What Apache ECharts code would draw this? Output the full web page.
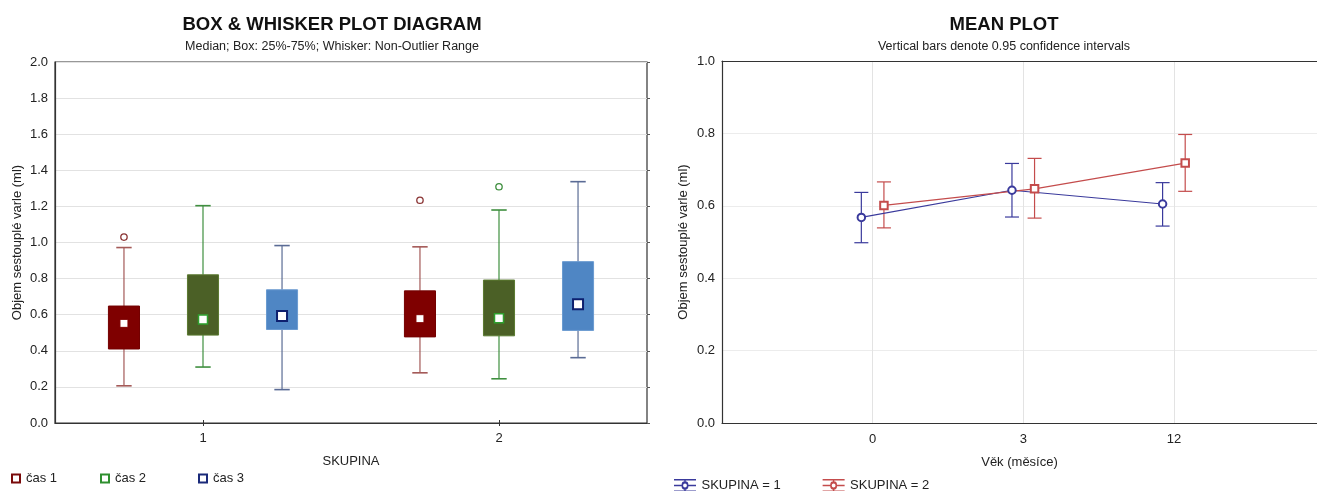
<!DOCTYPE html>
<html><head><meta charset="utf-8">
<script src="https://cdn.jsdelivr.net/npm/echarts@6/dist/echarts.min.js"></script>
<style>html,body{margin:0;padding:0;background:#fff}#c{width:1317px;height:491px}</style>
</head><body><div id="c"></div>
<script>
// ---------- Data: box & whisker plot ----------
const groups = ['1', '2'];
const timeNames = ['čas 1', 'čas 2', 'čas 3'];
// per group: [low whisker, Q1, median, Q3, high whisker]
const cas1Box = [[0.206, 0.410, 0.552, 0.648, 0.972], [0.278, 0.477, 0.578, 0.732, 0.976]];
const cas2Box = [[0.310, 0.487, 0.574, 0.821, 1.204], [0.245, 0.483, 0.580, 0.792, 1.180]];
const cas3Box = [[0.185, 0.518, 0.593, 0.738, 0.983], [0.362, 0.513, 0.658, 0.894, 1.337]];
const cas1Out = [1.030, 1.234];
const cas2Out = [null, 1.309];
const cas3Out = [null, null];

// ---------- Data: mean plot ----------
const ageLabels = ['0', '3', '12'];
const sk1Mean = [0.568, 0.643, 0.605];
const sk1Low  = [0.498, 0.569, 0.544];
const sk1High = [0.637, 0.717, 0.664];
const sk2Mean = [0.601, 0.647, 0.718];
const sk2Low  = [0.539, 0.566, 0.640];
const sk2High = [0.666, 0.731, 0.797];
const meanNames = ['SKUPINA = 1', 'SKUPINA = 2'];

const FONT = 'Liberation Sans, Arial, sans-serif';
const boxes = [cas1Box, cas2Box, cas3Box];
const outs = [cas1Out, cas2Out, cas3Out];
const boxStyles = [
  {fill:'#7f0000', stroke:'#730000', whisker:'#a45a58', medStroke:'#7f0000', medLw:1, ms:8, out:'#8a3434', legend:'#7a0a0a'},
  {fill:'#4b6026', stroke:'#5a7a30', whisker:'#3f8f3f', medStroke:'#2ea02e', medLw:1.5, ms:9, out:'#3f8f3f', legend:'#2f8f2f'},
  {fill:'#4f86c4', stroke:'#6a9ad0', whisker:'#5a6b95', medStroke:'#0d1f6e', medLw:2, ms:10, out:'#5a6b95', legend:'#1a2a7a'}
];
const slotOffsets = [-0.267, 0, 0.267];

function makeBoxRender(k) {
  const s = boxStyles[k];
  return function (params, api) {
    const cat = api.value(0);
    const band = api.size([1, 0])[0];
    const cx = api.coord([cat, 0])[0] + slotOffsets[k] * band;
    const bw = band * 0.105, cap = band * 0.026;
    const y = i => api.coord([cat, api.value(i)])[1];
    const yl = y(1), yq1 = y(2), ym = y(3), yq3 = y(4), yh = y(5);
    const ms = s.ms;
    return {type: 'group', children: [
      {type:'line', shape:{x1:cx, y1:yh, x2:cx, y2:yq3}, style:{stroke:s.whisker, lineWidth:1.2}},
      {type:'line', shape:{x1:cx, y1:yq1, x2:cx, y2:yl}, style:{stroke:s.whisker, lineWidth:1.2}},
      {type:'line', shape:{x1:cx-cap, y1:yh, x2:cx+cap, y2:yh}, style:{stroke:s.whisker, lineWidth:1.6}},
      {type:'line', shape:{x1:cx-cap, y1:yl, x2:cx+cap, y2:yl}, style:{stroke:s.whisker, lineWidth:1.6}},
      {type:'rect', shape:{x:cx-bw/2, y:yq3, width:bw, height:yq1-yq3}, style:{fill:s.fill, stroke:s.stroke, lineWidth:1}},
      {type:'rect', shape:{x:cx-ms/2, y:ym-ms/2, width:ms, height:ms}, style:{fill:'#fff', stroke:s.medStroke, lineWidth:s.medLw}}
    ]};
  };
}
function makeOutRender(k) {
  const s = boxStyles[k];
  return function (params, api) {
    const cat = api.value(0);
    const band = api.size([1, 0])[0];
    const p = api.coord([cat, api.value(1)]);
    return {type:'circle', shape:{cx:p[0] + slotOffsets[k]*band, cy:p[1], r:3.2}, style:{fill:'#fff', stroke:s.out, lineWidth:1.3}};
  };
}

const SHIFT = 0.075;
const meanColors = ['#3a3a9c', '#c44c4c'];
function makeErrRender(color) {
  return function (params, api) {
    const x = api.value(0);
    const p1 = api.coord([x, api.value(1)]);
    const p2 = api.coord([x, api.value(2)]);
    const h = 7;
    return {type:'group', children:[
      {type:'line', shape:{x1:p1[0], y1:p1[1], x2:p2[0], y2:p2[1]}, style:{stroke:color, lineWidth:1.2}},
      {type:'line', shape:{x1:p1[0]-h, y1:p1[1], x2:p1[0]+h, y2:p1[1]}, style:{stroke:color, lineWidth:1.2}},
      {type:'line', shape:{x1:p2[0]-h, y1:p2[1], x2:p2[0]+h, y2:p2[1]}, style:{stroke:color, lineWidth:1.2}}
    ]};
  };
}

const series = [];
boxes.forEach((b, k) => {
  series.push({
    type:'custom', name:timeNames[k], xAxisIndex:0, yAxisIndex:0,
    itemStyle:{color:boxStyles[k].legend},
    renderItem: makeBoxRender(k),
    encode:{x:0, y:[1,2,3,4,5]},
    data: groups.map((g, i) => [i].concat(b[i]))
  });
  series.push({
    type:'custom', name:timeNames[k], xAxisIndex:0, yAxisIndex:0,
    itemStyle:{color:boxStyles[k].legend},
    renderItem: makeOutRender(k),
    encode:{x:0, y:1},
    data: outs[k].map((v, i) => v == null ? null : [i, v]).filter(d => d)
  });
});
const meanSets = [[sk1Mean, sk1Low, sk1High, -SHIFT, 'emptyCircle'], [sk2Mean, sk2Low, sk2High, SHIFT, 'emptyRect']];
meanSets.forEach((m, j) => {
  series.push({
    type:'custom', name:meanNames[j], xAxisIndex:1, yAxisIndex:2, z:2,
    itemStyle:{color:meanColors[j]},
    renderItem: makeErrRender(meanColors[j]),
    encode:{x:0, y:[1,2]},
    data: m[0].map((v, i) => [i + m[3], m[1][i], m[2][i]])
  });
  series.push({
    type:'line', name:meanNames[j], xAxisIndex:1, yAxisIndex:2, z:3,
    symbol:m[4], symbolSize:7.5,
    color:meanColors[j],
    itemStyle:{color:meanColors[j], borderWidth:1.2},
    lineStyle:{color:meanColors[j], width:1.2},
    data: m[0].map((v, i) => [i + m[3], v])
  });
});

const sqIcon = 'path://M0,0H10V10H0Z M2,2V8H8V2Z';
const ebIcon = 'path://M0,0H22V1.5H0Z M0,5.75H7.6A3.4,3.4 0 0 1 14.4,5.75H22V7.25H14.4A3.4,3.4 0 0 1 7.6,7.25H0Z M9.1,6.5A1.9,1.9 0 1 0 12.9,6.5A1.9,1.9 0 1 0 9.1,6.5Z M10.3,1.5H11.7V3.2H10.3Z M10.3,9.8H11.7V11.5H10.3Z M0,11.5H22V13H0Z';

const axisLabelStyle = {color:'#222', fontSize:13, fontFamily:FONT};
const legendText = {fontSize:13, color:'#222', fontFamily:FONT};
const option = {
  animation:false,
  backgroundColor:'#fff',
  textStyle:{fontFamily:FONT},
  title:[
    {text:'BOX & WHISKER PLOT DIAGRAM', subtext:'Median; Box: 25%-75%; Whisker: Non-Outlier Range',
     left:327, textAlign:'center', top:10, itemGap:6,
     textStyle:{fontSize:18.5, fontWeight:'bold', color:'#111', fontFamily:FONT},
     subtextStyle:{fontSize:12.5, color:'#222', fontFamily:FONT}},
    {text:'MEAN PLOT', subtext:'Vertical bars denote 0.95 confidence intervals',
     left:999, textAlign:'center', top:10, itemGap:6,
     textStyle:{fontSize:18.5, fontWeight:'bold', color:'#111', fontFamily:FONT},
     subtextStyle:{fontSize:12.5, color:'#222', fontFamily:FONT}}
  ],
  legend:[
    {left:6, top:467, itemWidth:10, itemHeight:10, icon:sqIcon, data:[timeNames[0]], textStyle:legendText},
    {left:95, top:467, itemWidth:10, itemHeight:10, icon:sqIcon, data:[timeNames[1]], textStyle:legendText},
    {left:193, top:467, itemWidth:10, itemHeight:10, icon:sqIcon, data:[timeNames[2]], textStyle:legendText},
    {left:669, top:474, itemWidth:23, itemHeight:13, itemGap:42, icon:ebIcon, data:meanNames, textStyle:legendText}
  ],
  grid:[
    {left:55, top:62, width:592, height:361, show:true, borderColor:'#333', borderWidth:1.2, backgroundColor:'#fff'},
    {left:722, top:61, right:0, height:362, show:false}
  ],
  xAxis:[
    {type:'category', gridIndex:0, data:groups, name:'SKUPINA', nameLocation:'middle', nameGap:32,
     nameTextStyle:{fontSize:13, color:'#222', fontFamily:FONT},
     axisLine:{lineStyle:{color:'#333', width:1.2}}, axisTick:{show:true, alignWithLabel:true, inside:true, length:3, lineStyle:{color:'#333'}},
     axisLabel:Object.assign({margin:9}, axisLabelStyle), splitLine:{show:false}},
    {type:'value', gridIndex:1, min:-1, max:2.95, interval:1, name:'Věk (měsíce)', nameLocation:'middle', nameGap:33,
     nameTextStyle:{fontSize:13, color:'#222', fontFamily:FONT},
     axisLine:{onZero:false, lineStyle:{color:'#333', width:1.2}}, axisTick:{show:false},
     axisLabel:Object.assign({margin:10, showMaxLabel:false, formatter: v => (ageLabels[v] !== undefined ? ageLabels[v] : '')}, axisLabelStyle),
     splitLine:{show:true, lineStyle:{color:'#e3e3e3', width:1}}},
    {type:'category', gridIndex:0, data:groups, position:'top',
     axisLine:{show:false}, axisTick:{show:true, alignWithLabel:true, inside:true, length:3, lineStyle:{color:'#333'}},
     axisLabel:{show:false}, splitLine:{show:false}},
    {type:'value', gridIndex:1, min:-1, max:2.95, interval:1, position:'top',
     axisLine:{show:true, onZero:false, lineStyle:{color:'#333', width:1.2}}, axisTick:{show:false},
     axisLabel:{show:false}, splitLine:{show:false}}
  ],
  yAxis:[
    {type:'value', gridIndex:0, min:0, max:2, interval:0.2, name:'Objem sestouplé varle (ml)', nameLocation:'middle', nameGap:31,
     nameTextStyle:{fontSize:13, color:'#222', fontFamily:FONT},
     axisLine:{show:true, onZero:false, lineStyle:{color:'#333', width:1.2}}, axisTick:{show:false},
     axisLabel:Object.assign({margin:7, formatter: v => v.toFixed(1)}, axisLabelStyle),
     splitLine:{show:true, lineStyle:{color:'#e2e2e2', width:1}}},
    {type:'value', gridIndex:0, min:0, max:2, interval:0.2, position:'right',
     axisLine:{show:false}, axisTick:{show:true, length:3, lineStyle:{color:'#555'}}, axisLabel:{show:false}, splitLine:{show:false}},
    {type:'value', gridIndex:1, min:0, max:1, interval:0.2, name:'Objem sestouplé varle (ml)', nameLocation:'middle', nameGap:32,
     nameTextStyle:{fontSize:13, color:'#222', fontFamily:FONT},
     axisLine:{show:true, onZero:false, lineStyle:{color:'#333', width:1.2}}, axisTick:{show:false},
     axisLabel:Object.assign({margin:7, formatter: v => v.toFixed(1)}, axisLabelStyle),
     splitLine:{show:true, lineStyle:{color:'#ececec', width:1}}}
  ],
  series: series
};
const chart = echarts.init(document.getElementById('c'), null, {renderer:'canvas'});
chart.setOption(option);
</script>
</body></html>
